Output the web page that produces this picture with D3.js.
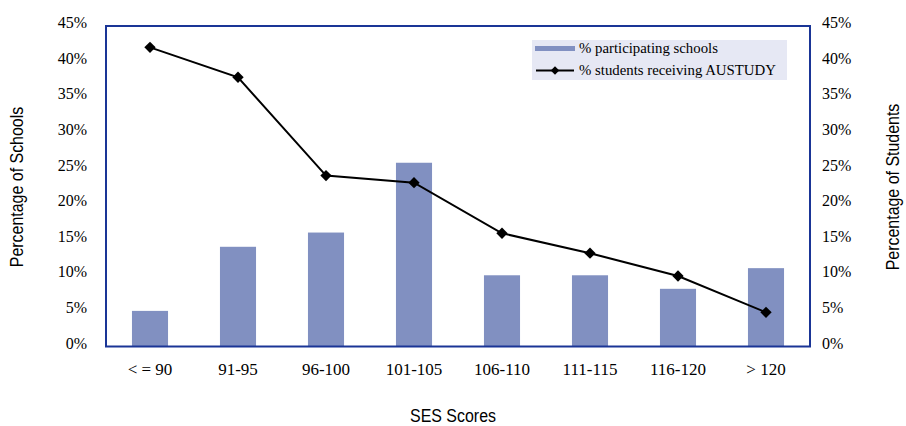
<!DOCTYPE html>
<html><head><meta charset="utf-8">
<script src="https://cdn.jsdelivr.net/npm/d3@7/dist/d3.min.js"></script>
<style>body{margin:0;background:#fff}</style>
</head><body>
<svg id="c" width="906" height="426"></svg>
<script>
const categories = ["< = 90","91-95","96-100","101-105","106-110","111-115","116-120","> 120"];
const schools = [5.0, 14.0, 16.0, 25.8, 10.0, 10.0, 8.1, 11.0];
const students = [42.0, 37.8, 24.0, 23.0, 15.9, 13.1, 9.9, 4.8];
const yTicks = [0,5,10,15,20,25,30,35,40,45];
const seriesNames = ["% participating schools","% students receiving AUSTUDY"];

const svg = d3.select("#c");
const L=106, R=810, T=26, B=346.5;
const serif = "'Liberation Serif','Times New Roman',serif";
const sans = "'Liberation Sans',Arial,sans-serif";

const x = d3.scaleBand().domain(categories).range([L,R]).paddingInner(0.59).paddingOuter(0.295);
const yL = d3.scaleLinear().domain([0,45]).range([B,T]);
const yR = d3.scaleLinear().domain([0,45]).range([B,T]);

// bars
svg.append("g").selectAll("rect").data(schools).join("rect")
  .attr("x",(d,i)=>x(categories[i])).attr("width",x.bandwidth())
  .attr("y",d=>yL(d)).attr("height",d=>B-yL(d)).attr("fill","#8190C1");

// line
const cx = i => x(categories[i]) + x.bandwidth()/2;
svg.append("path").datum(students)
  .attr("d", d3.line().x((d,i)=>cx(i)).y(d=>yR(d)))
  .attr("fill","none").attr("stroke","#000").attr("stroke-width",2);
svg.append("g").selectAll("path").data(students).join("path")
  .attr("d", d3.symbol(d3.symbolSquare, 64))
  .attr("transform",(d,i)=>`translate(${cx(i)},${yR(d)}) rotate(45)`)
  .attr("fill","#000");

// plot border
svg.append("rect").attr("x",L).attr("y",T).attr("width",R-L).attr("height",B-T)
  .attr("fill","none").attr("stroke","#1A3596").attr("stroke-width",2);

// axes
const fmt = d=>d+"%";
const gl = svg.append("g").attr("transform",`translate(${L},0)`)
  .call(d3.axisLeft(yL).tickValues(yTicks).tickFormat(fmt).tickSize(0).tickPadding(19));
const gr = svg.append("g").attr("transform",`translate(${R},0)`)
  .call(d3.axisRight(yR).tickValues(yTicks).tickFormat(fmt).tickSize(0).tickPadding(12));
const gx = svg.append("g").attr("transform",`translate(0,${B})`)
  .call(d3.axisBottom(x).tickSize(0).tickPadding(16));
[gl,gr,gx].forEach(g=>{
  g.select(".domain").remove();
  g.selectAll("text").attr("font-family",serif).attr("font-size",16).attr("fill","#000");
});
gx.selectAll("text").attr("font-size",17);
gl.selectAll("text").attr("dy","0.1em");
gr.selectAll("text").attr("dy","0.1em");

// axis titles (narrow sans)
const sx = 0.84;
svg.append("text").attr("transform",`translate(23,187) rotate(-90) scale(${sx},1)`)
  .attr("text-anchor","middle").attr("font-family",sans).attr("font-size",19).text("Percentage of Schools");
svg.append("text").attr("transform",`translate(899,187) rotate(-90) scale(${sx},1)`)
  .attr("text-anchor","middle").attr("font-family",sans).attr("font-size",19).text("Percentage of Students");
svg.append("text").attr("transform",`translate(453,422) scale(${sx},1)`)
  .attr("text-anchor","middle").attr("font-family",sans).attr("font-size",19).text("SES Scores");

// legend
const lg = svg.append("g");
lg.append("rect").attr("x",532).attr("y",40).attr("width",255).attr("height",40).attr("fill","#E6E8F4");
lg.append("rect").attr("x",535).attr("y",46).attr("width",40).attr("height",5).attr("fill","#8190C1");
lg.append("line").attr("x1",536).attr("x2",574).attr("y1",70.5).attr("y2",70.5).attr("stroke","#000").attr("stroke-width",2);
lg.append("path").attr("d",d3.symbol(d3.symbolSquare,36)).attr("transform","translate(555,70.5) rotate(45)").attr("fill","#000");
lg.selectAll("text.l").data(seriesNames).join("text").attr("class","l")
  .attr("x",579).attr("y",(d,i)=>52.5+i*22).attr("font-family",serif).attr("font-size",14.8).text(d=>d);
</script>
</body></html>
